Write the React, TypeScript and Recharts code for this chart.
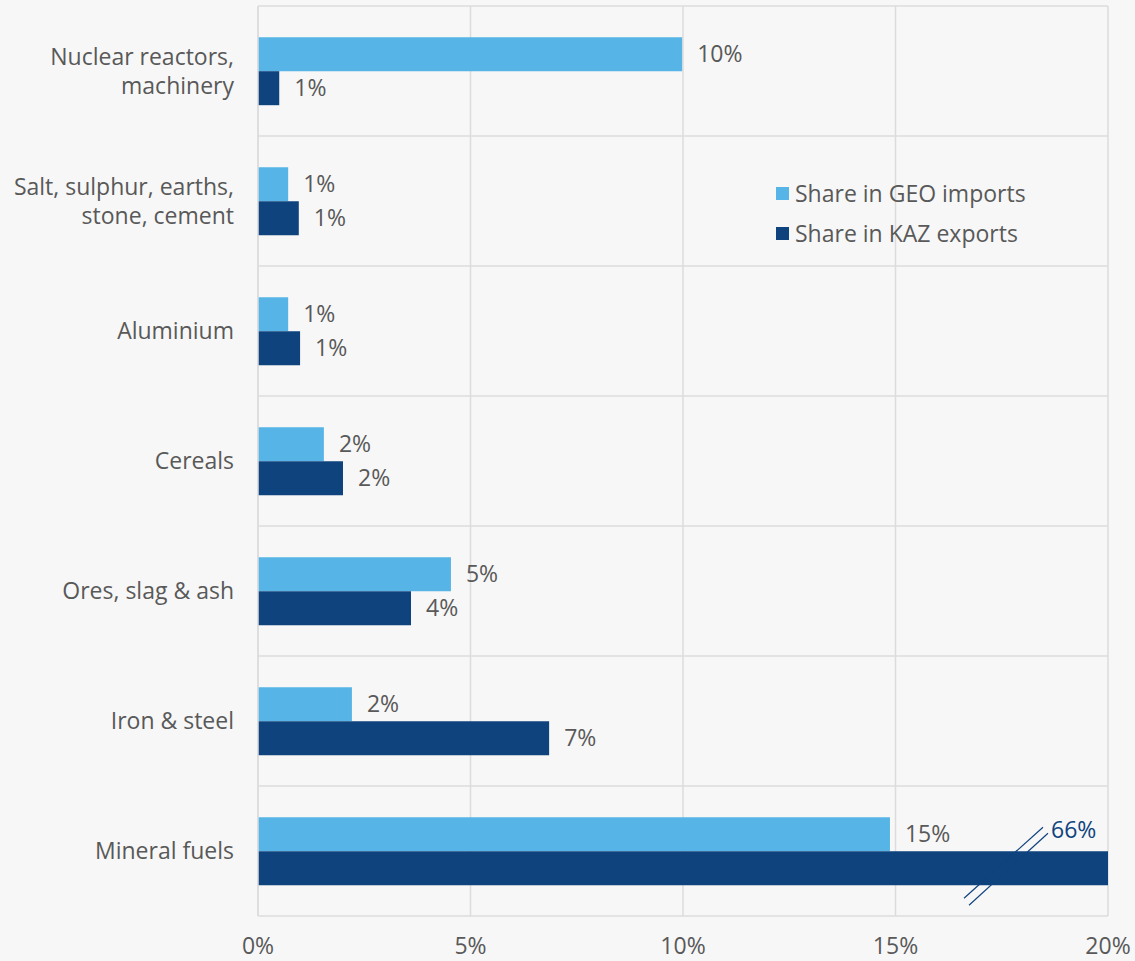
import React from 'react';
import { BarChart, Bar, XAxis, YAxis, CartesianGrid, Legend, LabelList } from 'recharts';

const categories = [
  'Nuclear reactors,\nmachinery',
  'Salt, sulphur, earths,\nstone, cement',
  'Aluminium',
  'Cereals',
  'Ores, slag & ash',
  'Iron & steel',
  'Mineral fuels',
];
const geoImports = [9.98, 0.71, 0.71, 1.55, 4.54, 2.21, 14.87];
const kazExports = [0.5, 0.96, 0.99, 2.0, 3.6, 6.85, 66];
const xTicks = [0, 5, 10, 15, 20];
const AXIS_MAX = 20;

const LIGHT = '#56B5E6';
const DARK = '#0F437E';
const TEXT = '#595959';
const FONT = '"Open Sans", "Noto Sans", sans-serif';
const FS = 23;

const data = categories.map((c, i) => ({
  name: c,
  geo: geoImports[i],
  kaz: Math.min(kazExports[i], AXIS_MAX),
  kazReal: kazExports[i],
}));

const YTick = (props: any) => {
  const { x, y, payload } = props;
  const lines = String(payload.value).split('\n');
  const lh = 29;
  const start = y - ((lines.length - 1) * lh) / 2;
  return (
    <text x={x - 22} y={start} textAnchor="end" fill={TEXT} fontSize={FS} fontFamily={FONT}>
      {lines.map((l, i) => (
        <tspan key={i} x={x - 22} y={start + i * lh} dy="0.35em">{l}</tspan>
      ))}
    </text>
  );
};

const GeoLabel = (props: any) => {
  const { x, y, width, height, value } = props;
  return (
    <text x={x + width + 15} y={y + height / 2} dy="0.35em" fill={TEXT} fontSize={FS} fontFamily={FONT}>
      {Math.round(value)}%
    </text>
  );
};

const KazLabel = (props: any) => {
  const { x, y, width, height, index } = props;
  const real = kazExports[index];
  if (real > AXIS_MAX) {
    const X = x + width;
    return (
      <g>
        <line x1={X - 144} y1={y + 47} x2={X - 65} y2={y - 24} stroke={DARK} strokeWidth={1.2} />
        <line x1={X - 139} y1={y + 54} x2={X - 60} y2={y - 18} stroke={DARK} strokeWidth={1.2} />
        <text x={X - 57} y={y - 13} fill={DARK} fontSize={FS} fontFamily={FONT}>
          {Math.round(real)}%
        </text>
      </g>
    );
  }
  return (
    <text x={x + width + 15} y={y + height / 2} dy="0.35em" fill={TEXT} fontSize={FS} fontFamily={FONT}>
      {Math.round(real)}%
    </text>
  );
};

const LegendContent = () => (
  <div style={{ fontFamily: FONT, fontSize: FS, color: TEXT }}>
    {[
      { c: LIGHT, t: 'Share in GEO imports' },
      { c: DARK, t: 'Share in KAZ exports' },
    ].map((it, i) => (
      <div key={i} style={{ display: 'flex', alignItems: 'center', height: 40 }}>
        <span style={{ display: 'inline-block', width: 13, height: 13, background: it.c, marginRight: 6 }} />
        <span>{it.t}</span>
      </div>
    ))}
  </div>
);

export default function App() {
  return (
    <div style={{ position: 'absolute', left: 0, top: 0, width: 1135, height: 961, background: '#F7F7F7' }}>
      <BarChart
        width={1135}
        height={961}
        data={data}
        layout="vertical"
        margin={{ top: 6, right: 27, bottom: 0, left: 0 }}
        barCategoryGap="24%"
        barGap={0}
      >
        <CartesianGrid
          stroke="#DCDCDC"
          strokeWidth={1.5}
          horizontalCoordinatesGenerator={({ offset }: any) =>
            categories.map((_, i) => offset.top + (i * offset.height) / categories.length).concat([offset.top + offset.height])
          }
        />
        <XAxis
          type="number"
          domain={[0, AXIS_MAX]}
          ticks={xTicks}
          tickFormatter={(v: number) => `${v}%`}
          axisLine={false}
          tickLine={false}
          tickSize={0}
          tickMargin={22}
          height={45}
          tick={{ fill: TEXT, fontSize: FS, fontFamily: FONT }}
        />
        <YAxis
          type="category"
          dataKey="name"
          width={258}
          axisLine={{ stroke: '#DCDCDC', strokeWidth: 1.5 }}
          tickLine={false}
          tickSize={0}
          tick={<YTick />}
          interval={0}
        />
        <Legend
          layout="horizontal"
          verticalAlign="middle"
          align="center"
          content={<LegendContent />}
          wrapperStyle={{ position: 'absolute', top: 173, left: 776, width: 320 }}
        />
        <Bar dataKey="geo" fill={LIGHT} isAnimationActive={false}>
          <LabelList dataKey="geo" content={<GeoLabel />} />
        </Bar>
        <Bar dataKey="kaz" fill={DARK} isAnimationActive={false}>
          <LabelList dataKey="kaz" content={<KazLabel />} />
        </Bar>
      </BarChart>
    </div>
  );
}
